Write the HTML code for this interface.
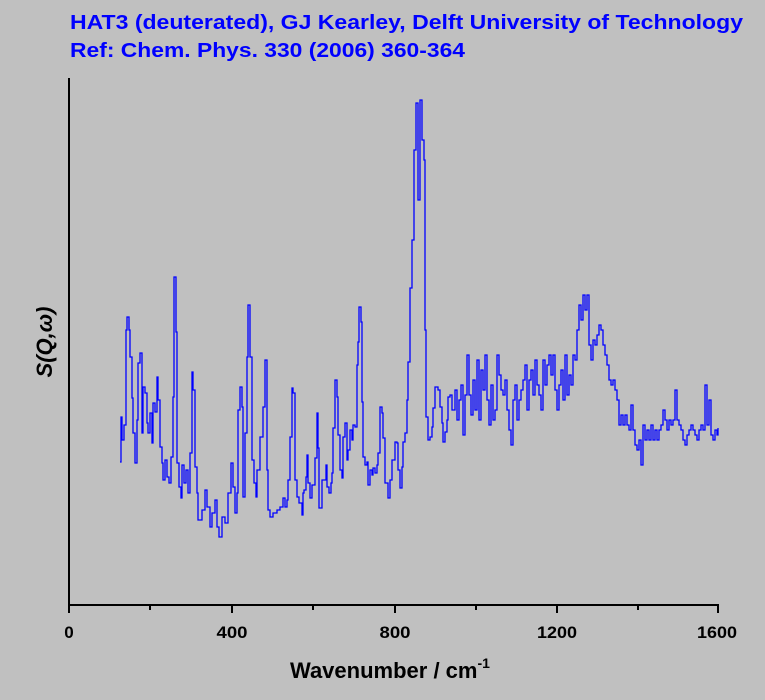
<!DOCTYPE html>
<html><head><meta charset="utf-8"><style>
html,body{margin:0;padding:0;background:#c0c0c0;}
svg{display:block;font-family:"Liberation Sans",Arial,sans-serif;}
</style></head><body>
<svg width="765" height="700" viewBox="0 0 765 700">
<rect width="765" height="700" fill="#c0c0c0"/>
<text x="70" y="29" fill="#0000ff" font-size="20" font-weight="bold" textLength="673" lengthAdjust="spacingAndGlyphs">HAT3 (deuterated), GJ Kearley, Delft University of Technology</text>
<text x="70" y="57" fill="#0000ff" font-size="20" font-weight="bold" textLength="395" lengthAdjust="spacingAndGlyphs">Ref: Chem. Phys. 330 (2006) 360-364</text>
<g stroke="#000" stroke-width="2" fill="none">
<line x1="69" y1="78" x2="69" y2="606"/>
<line x1="68" y1="605" x2="719" y2="605"/>
<line x1="69" y1="605" x2="69" y2="613"/>
<line x1="232" y1="605" x2="232" y2="613"/>
<line x1="395" y1="605" x2="395" y2="613"/>
<line x1="557" y1="605" x2="557" y2="613"/>
<line x1="718" y1="605" x2="718" y2="613"/>
<line x1="150" y1="605" x2="150" y2="610"/>
<line x1="313" y1="605" x2="313" y2="610"/>
<line x1="476" y1="605" x2="476" y2="610"/>
<line x1="638" y1="605" x2="638" y2="610"/>
</g>
<g font-size="17" font-weight="bold" text-anchor="middle" fill="#000">
<text x="69" y="638">0</text>
<text x="232" y="638" textLength="31" lengthAdjust="spacingAndGlyphs">400</text>
<text x="395" y="638" textLength="31" lengthAdjust="spacingAndGlyphs">800</text>
<text x="557" y="638" textLength="40" lengthAdjust="spacingAndGlyphs">1200</text>
<text x="717" y="638" textLength="40" lengthAdjust="spacingAndGlyphs">1600</text>
</g>
<text x="290" y="678" font-size="22" font-weight="bold">Wavenumber / cm<tspan font-size="14" dy="-10">-1</tspan></text>
<text transform="translate(52,342) rotate(-90)" font-size="22" font-weight="bold" font-style="italic" text-anchor="middle">S(Q,ω)</text>
<path id="d" fill="none" stroke="#0000ff" stroke-width="1.3"/>
</svg>
<script>
var p=[120,462,121,417,122,440,124,425,126,330,127,317,129,330,130,357,132,398,133,433,135,463,137,420,138,363,140,353,142,433,143,387,145,393,147,423,148,433,150,413,152,443,153,403,155,412,157,377,158,400,160,447,162,463,163,480,165,460,167,477,169,483,171,457,173,397,174,277,176,332,177,463,179,487,181,498,182,465,184,483,186,470,188,493,190,453,192,372,193,390,195,467,197,493,198,520,202,510,205,490,207,507,210,527,212,513,215,500,217,527,219,537,222,517,225,523,228,493,231,463,233,487,235,513,237,493,238,410,240,387,242,407,243,497,245,433,247,357,248,305,250,357,252,460,254,483,256,497,257,470,260,437,263,407,265,360,267,470,268,510,270,517,273,513,277,510,280,507,283,498,285,507,287,500,288,480,290,437,292,388,293,393,295,480,297,497,299,503,302,515,303,493,304,490,306,477,307,455,308,483,310,498,312,485,315,458,317,413,318,448,319,508,322,480,324,480,326,465,327,487,329,493,331,483,332,473,333,428,335,380,337,397,338,435,340,470,342,478,343,437,345,423,347,460,348,450,350,430,352,440,353,425,355,427,357,365,358,342,359,307,361,322,362,402,363,457,365,465,367,462,368,485,370,470,372,475,373,468,375,473,377,465,378,453,380,407,382,413,383,438,385,483,387,483,388,498,390,480,392,460,393,460,395,442,397,443,398,470,400,488,402,467,403,442,405,433,407,400,408,362,410,288,412,240,414,150,416,103,418,200,420,100,422,140,424,160,425,330,426,417,428,440,430,437,432,427,433,408,435,387,438,390,440,407,442,423,443,442,445,432,447,420,448,397,450,395,452,410,455,390,457,420,459,400,461,385,463,435,465,395,467,355,469,395,471,415,473,380,475,410,477,360,479,420,481,370,483,390,485,355,487,400,489,425,491,385,493,420,495,410,497,355,499,375,501,390,503,395,505,380,507,410,509,430,511,445,513,400,515,385,517,420,519,400,521,390,523,380,525,365,527,410,529,380,531,370,533,395,535,360,537,385,539,395,541,410,543,360,545,385,547,365,549,355,551,375,553,355,555,390,557,410,559,385,561,370,563,400,565,355,567,395,569,375,571,385,573,355,575,360,577,330,579,305,581,320,583,295,585,310,587,295,589,345,591,360,593,340,595,345,597,335,599,325,601,330,603,345,605,355,607,365,609,380,611,385,613,380,615,390,617,400,619,425,621,415,623,425,625,415,627,425,629,430,631,405,633,430,635,445,637,450,639,440,641,465,643,425,645,440,647,430,649,440,651,425,653,440,655,430,657,440,659,430,661,425,663,410,665,420,667,430,669,420,671,425,673,420,675,390,677,420,679,425,681,430,683,440,685,445,687,435,689,430,691,425,693,430,695,435,697,440,699,430,701,425,703,430,705,385,707,425,709,400,711,435,713,440,715,430,717,435,718,428];
var d="M"+p[0]+","+p[1];
for(var i=2;i<p.length;i+=2){d+=" H"+p[i]+" V"+p[i+1];}
document.getElementById("d").setAttribute("d",d);
</script>
</body></html>
